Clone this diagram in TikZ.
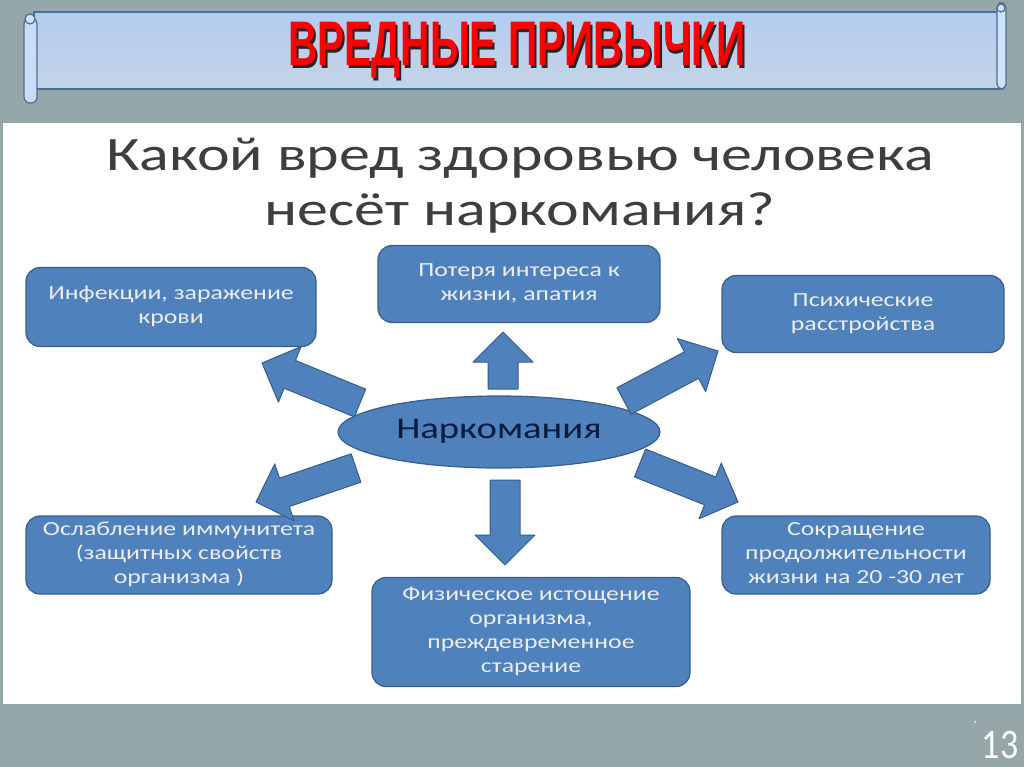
\documentclass[tikz,border=0pt]{standalone}
\usepackage{fontspec}
\setmainfont{Carlito}
\newfontfamily\titlefont{Liberation Sans}
\usetikzlibrary{calc,positioning,shapes.geometric}

\definecolor{slidebg}{RGB}{149,167,168}
\definecolor{boxblue}{RGB}{79,129,189}
\definecolor{boxline}{RGB}{56,93,138}
\definecolor{headgrey}{RGB}{62,62,62}
\definecolor{scrolltop}{RGB}{178,205,240}
\definecolor{scrollbot}{RGB}{196,212,230}
\definecolor{scrollline}{RGB}{74,110,150}
\definecolor{navytext}{RGB}{12,26,62}

% wide text, as on the slide
\newcommand\wide[1]{\scalebox{1.29}[1]{\begin{tabular}{@{}c@{}}#1\end{tabular}}}
% red title with its dark shadow
\newcommand\shadowed[1]{\rlap{\kern3pt\raisebox{-3pt}{\color{black!85}#1}}\color{red}#1}

% fat block arrow from #1 (tail) to #2 (tip)
\newcommand\fatarrow[2]{%
  \coordinate (hb) at ($(#2)!30pt!(#1)$);
  \filldraw[arr] ($(#1)!15pt!90:(#2)$) -- ($(hb)!15pt!90:(#2)$) -- ($(hb)!30pt!90:(#2)$)
    -- (#2) -- ($(hb)!30pt!-90:(#2)$) -- ($(hb)!15pt!-90:(#2)$) -- ($(#1)!15pt!-90:(#2)$) -- cycle;}

\begin{document}
\begin{tikzpicture}[x=1pt,y=-1pt,
  st/.style={draw=boxline,fill=boxblue,line width=1.2pt,rounded corners=14pt,align=center,
    text=white!93!black,font=\fontsize{20}{24}\selectfont,inner sep=0pt},
  arr/.style={draw=boxline,fill=boxblue,line width=1pt,line join=round}]
% slide background and white panel
\fill[slidebg] (0,0) rectangle (1024,767);
\fill[white] (3,123) rectangle (1021,704);
% scroll banner
\filldraw[top color=scrolltop,bottom color=scrollbot,draw=scrollline,line width=1.2pt] (34,12) rectangle (1000,89);
\filldraw[fill=scrolltop!70!white,draw=scrollline,line width=1.2pt,rounded corners=6pt] (24,18) rectangle (37,103);
\draw[scrollline,line width=1.2pt,fill=scrolltop!60!white] (30,19) circle (5);
\filldraw[fill=scrolltop!60!white,draw=scrollline,line width=1.2pt,rounded corners=5pt] (997,3) rectangle (1006,89);
\draw[scrollline,line width=1.2pt] (1001,8) circle (4);
\node[font=\titlefont\bfseries\fontsize{63}{63}\selectfont] (title) at (517,52) {\scalebox{0.645}[1]{\shadowed{ВРЕДНЫЕ ПРИВЫЧКИ}}};
% heading
\node[text=headgrey,font=\fontsize{48}{55}\selectfont] (head) at (520,187) {\wide{Какой вред здоровью человека\\несёт наркомания?}};
% boxes
\node[st,minimum width=282pt,minimum height=77pt] (apathy) at (519,284) {\wide{Потеря интереса к\\жизни, апатия}};
\node[st,minimum width=290pt,minimum height=79pt] (infect) at (171,307) {\wide{Инфекции, заражение\\крови}};
\node[st,minimum width=282pt,minimum height=77pt] (psych) at (863,314) {\wide{Психические\\расстройства}};
\node[draw=boxline,fill=boxblue,line width=1.2pt,ellipse,minimum width=322pt,minimum height=72pt,
  text=navytext,font=\fontsize{30}{30}\selectfont] (nark) at (499,432) {\wide{Наркомания}};
\node[st,minimum width=306pt,minimum height=78pt] (immun) at (179,555) {\wide{Ослабление иммунитета\\(защитных свойств\\организма )}};
\node[st,minimum width=318pt,minimum height=109pt] (phys) at (531,632) {\wide{Физическое истощение\\организма,\\преждевременное\\старение}};
\node[st,minimum width=268pt,minimum height=78pt] (life) at (856,555) {\wide{Сокращение\\продолжительности\\жизни на 20 -30 лет}};
% arrow ends
\coordinate (upT) at (503,389);  \coordinate (upH) at (503,332);
\coordinate (dnT) at (505,480);  \coordinate (dnH) at (505,565);
\coordinate (ulT) at (360,403);  \coordinate (ulH) at (262,363);
\coordinate (urT) at (624,401);  \coordinate (urH) at (718,351);
\coordinate (llT) at (356,468);  \coordinate (llH) at (256,502);
\coordinate (lrT) at (640,463);  \coordinate (lrH) at (738,502);
\fatarrow{upT}{upH}
\fatarrow{dnT}{dnH}
\fatarrow{ulT}{ulH}
\fatarrow{urT}{urH}
\fatarrow{llT}{llH}
\fatarrow{lrT}{lrH}
% page number
\fill[white!90!red] (975,722) circle (1.2);
\node[text=white,font=\fontsize{40}{40}\selectfont] (pgno) at (1000,745) {\scalebox{0.9}[1.05]{13}};
\end{tikzpicture}
\end{document}
